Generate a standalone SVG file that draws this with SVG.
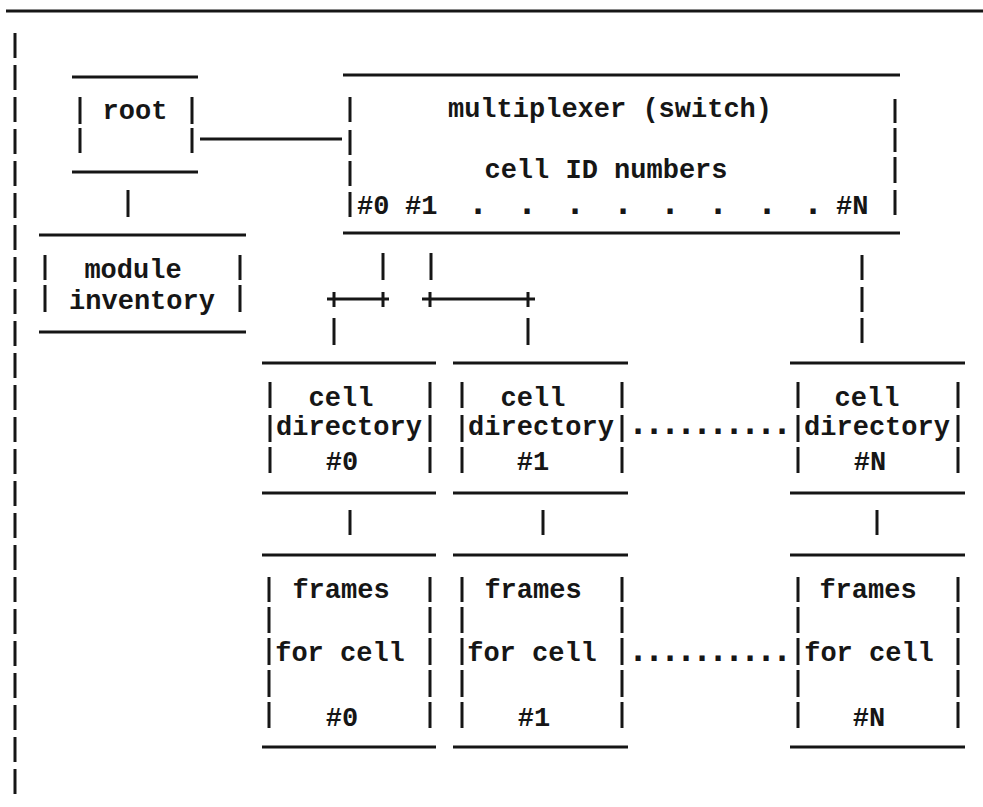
<svg xmlns="http://www.w3.org/2000/svg" width="983" height="807" viewBox="0 0 983 807">
<style>
  .ln { stroke: #161616; stroke-width: 3; fill: none; }
  .t { font-family: "Liberation Mono", "DejaVu Sans Mono", monospace; font-size: 27px; font-weight: bold; fill: #161616; }
  .c { text-anchor: middle; }
  .dot { font-family: "Liberation Mono", "DejaVu Sans Mono", monospace; font-size: 36px; font-weight: bold; fill: #161616; text-anchor: middle; }
</style>
<rect width="983" height="807" fill="#ffffff"/>
<g id="page">
  <line class="ln" x1="6" y1="11" x2="983" y2="11"/>
  <line class="ln" x1="15" y1="33" x2="15" y2="797" stroke-dasharray="25 7"/>
</g>
<g id="connectors">
  <line class="ln" x1="200" y1="139" x2="342" y2="139"/>
  <line class="ln" x1="128" y1="190" x2="128" y2="217"/>
  <line class="ln" x1="383" y1="253" x2="383" y2="280"/>
  <line class="ln" x1="431" y1="253" x2="431" y2="280"/>
  <path class="ln" d="M327 299H389M334 292V307M383 292V307"/>
  <path class="ln" d="M422 299H535M430 292V307M528 292V307"/>
  <line class="ln" x1="334" y1="318" x2="334" y2="345"/>
  <line class="ln" x1="528" y1="318" x2="528" y2="345"/>
  <path class="ln" d="M862 255V280M862 287V312M862 318V343"/>
  <line class="ln" x1="350" y1="510" x2="350" y2="535"/>
  <line class="ln" x1="543" y1="510" x2="543" y2="535"/>
  <line class="ln" x1="877" y1="510" x2="877" y2="535"/>
  <text class="dot" x="638 654 670 686 702 718 734 750 766 782" y="434">..........</text>
  <text class="dot" x="638 654 670 686 702 718 734 750 766 782" y="661">..........</text>
</g>
<g id="root">
  <path class="ln" d="M72 77H198M72 172H198M80 97V124M80 128V153M192 97V124M192 128V153"/>
  <text class="t c" x="135" y="119">root</text>
</g>
<g id="module-inventory">
  <path class="ln" d="M39 235H246M39 332H246M45 255V280M45 285V312M240 255V280M240 285V312"/>
  <text class="t c" x="133" y="278">module</text>
  <text class="t c" x="142" y="309">inventory</text>
</g>
<g id="multiplexer">
  <path class="ln" d="M343 75H900M343 233H900M350 97V122M350 130V155M350 161V186M350 192V217M895 99V123M895 128V152M895 157V183M895 190V215"/>
  <text class="t c" x="610" y="117">multiplexer (switch)</text>
  <text class="t c" x="606" y="178">cell ID numbers</text>
  <text class="t" x="357" y="214">#0</text>
  <text class="t" x="405" y="214">#1</text>
  <text class="dot" x="478 527 575 623 670 718 767 813" y="214">........</text>
  <text class="t" x="836" y="214">#N</text>
</g>
<g id="cell-directory-0">
  <path class="ln" d="M262 363H436M262 493H436M270 382V408M270 415V442M270 447V473M430 382V408M430 415V442M430 447V473"/>
  <text class="t c" x="341" y="406">cell</text>
  <text class="t c" x="349" y="435">directory</text>
  <text class="t c" x="342" y="470">#0</text>
</g>
<g id="cell-directory-1">
  <path class="ln" d="M453 363H628M453 493H628M462 382V408M462 415V442M462 447V473M622 382V408M622 415V442M622 447V473"/>
  <text class="t c" x="533" y="406">cell</text>
  <text class="t c" x="541" y="435">directory</text>
  <text class="t c" x="533" y="470">#1</text>
</g>
<g id="cell-directory-N">
  <path class="ln" d="M790 363H965M790 493H965M798 382V408M798 415V442M798 447V473M958 382V408M958 415V442M958 447V473"/>
  <text class="t c" x="867" y="406">cell</text>
  <text class="t c" x="877" y="435">directory</text>
  <text class="t c" x="870" y="470">#N</text>
</g>
<g id="frames-0">
  <path class="ln" d="M262 555H436M262 747H436M269 577V602M269 607V633M269 638V665M269 670V697M269 702V728M430 577V602M430 607V633M430 638V665M430 670V697M430 702V728"/>
  <text class="t c" x="341" y="598">frames</text>
  <text class="t c" x="340" y="661">for cell</text>
  <text class="t c" x="342" y="726">#0</text>
</g>
<g id="frames-1">
  <path class="ln" d="M453 555H628M453 747H628M462 577V602M462 607V633M462 638V665M462 670V697M462 702V728M622 577V602M622 607V633M622 638V665M622 670V697M622 702V728"/>
  <text class="t c" x="533" y="598">frames</text>
  <text class="t c" x="532" y="661">for cell</text>
  <text class="t c" x="534" y="726">#1</text>
</g>
<g id="frames-N">
  <path class="ln" d="M790 555H965M790 747H965M798 577V602M798 607V633M798 638V665M798 670V697M798 702V728M958 577V602M958 607V633M958 638V665M958 670V697M958 702V728"/>
  <text class="t c" x="868" y="598">frames</text>
  <text class="t c" x="869" y="661">for cell</text>
  <text class="t c" x="869" y="726">#N</text>
</g>
</svg>
